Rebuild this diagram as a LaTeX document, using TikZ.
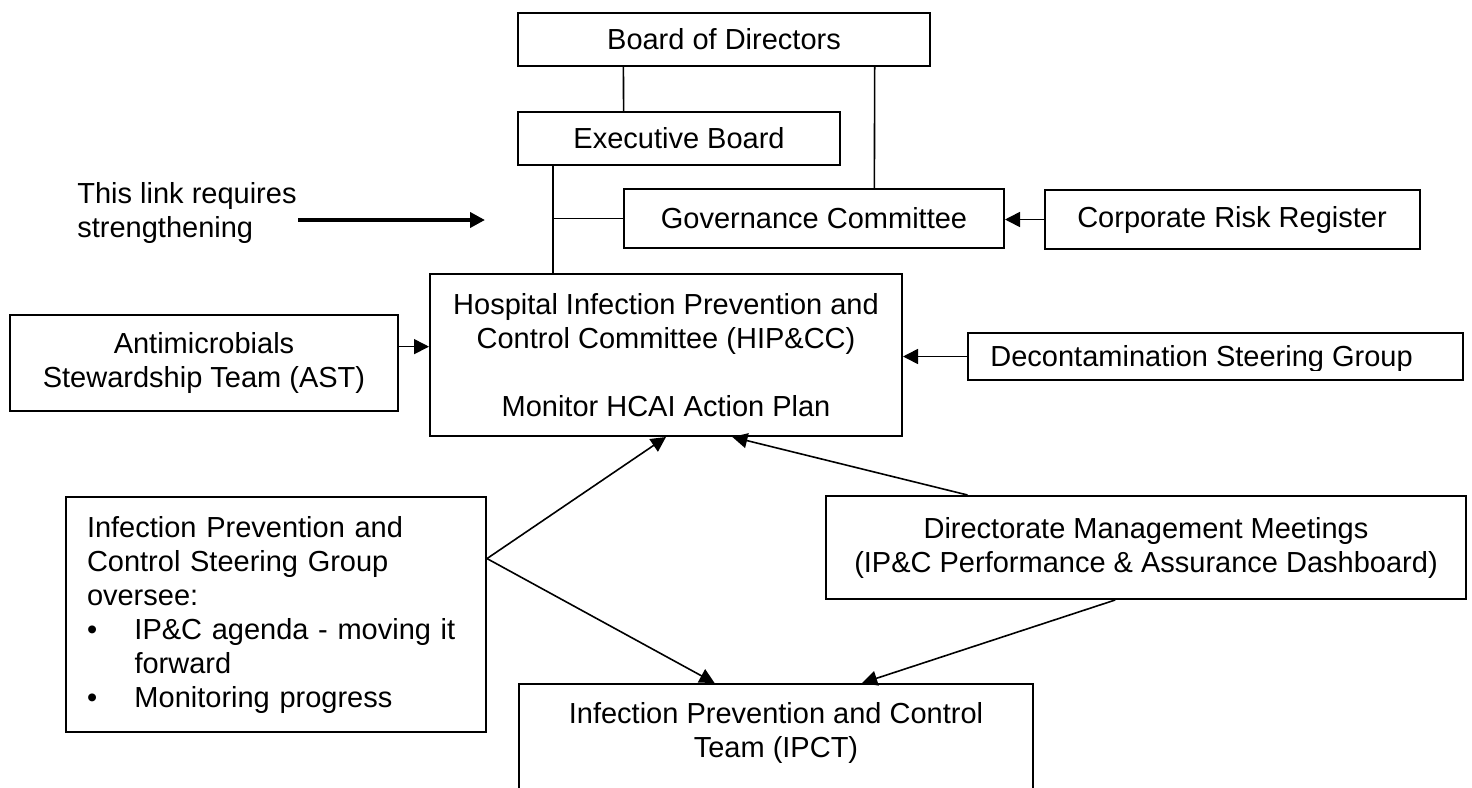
\documentclass[tikz,border=0pt]{standalone}
\usepackage{fontspec}
\setmainfont{Liberation Sans}
\usetikzlibrary{arrows.meta,calc}
\begin{document}
\begin{tikzpicture}[x=0.5pt,y=-0.5pt,
  box/.style={draw, line width=1pt, rectangle, inner sep=0pt, font=\fontsize{14.5pt}{17pt}\selectfont, align=center},
  conn/.style={line width=0.8pt},
  arr/.style={conn, -{Triangle[length=7.5pt,width=7.5pt]}},
  txt/.style={inner sep=0pt, font=\fontsize{14.5pt}{17pt}\selectfont}]
\useasboundingbox (0,0) rectangle (1472,787);
\clip (0,0) rectangle (1472,787);
% boxes
\node[box, minimum width=206pt, minimum height=26.5pt] (board) at (724,39.5) {Board of Directors};
\node[box, minimum width=161pt, minimum height=26.5pt] (exec) at (679,138.5) {Executive Board};
\node[box, minimum width=190pt, minimum height=29.5pt] (gov) at (814,218.5) {Governance Committee};
\node[box, minimum width=187.5pt, minimum height=29.5pt] (corp) at (1232,219.5) {Corporate Risk Register};
\node[box, minimum width=236pt, minimum height=81pt] (hip) at (666,355) {Hospital Infection Prevention and\\Control Committee (HIP\&CC)\\[17pt]Monitor HCAI Action Plan};
\node[box, minimum width=194pt, minimum height=48pt] (ast) at (204,363) {Antimicrobials\\Stewardship Team (AST)};
\node[box, minimum width=247.75pt, minimum height=23.5pt] (decon) at (1215.25,356.5) {};
\begin{scope}
\clip (decon.north west) rectangle ($(decon.south east)+(0,-11)$);
\node[txt, anchor=base west] (decontext) at ($(decon.west)+(23.5,9.5)$) {Decontamination Steering Group};
\end{scope}
\node[box, minimum width=210pt, minimum height=117.5pt, text width=189pt, align=left] (ipcsg) at (276,614.5) {Infection Prevention and\\Control Steering Group\\oversee:\\\makebox[23.75pt][l]{\textbullet}IP\&C agenda - moving it\\\hspace*{23.75pt}forward\\\makebox[23.75pt][l]{\textbullet}Monitoring progress};
\node[box, minimum width=320pt, minimum height=51.5pt] (dir) at (1146,547.5) {Directorate Management Meetings\\(IP\&C Performance \& Assurance Dashboard)};
\node[box, minimum width=257pt, minimum height=60pt, anchor=north] (ipct) at (776,683) {};
\node[txt, align=center, anchor=north] (ipcttext) at ($(ipct.north)+(0,19)$) {Infection Prevention and Control\\Team (IPCT)};
\node[txt, align=left, anchor=west] (note) at (77,213) {This link requires\\strengthening};
% connectors
\draw[conn] ($(board.south west)!0.257!(board.south east)$) -- ($(exec.north west)!0.329!(exec.north east)$);
\draw[conn] ($(board.south west)!0.864!(board.south east)$) -- ($(gov.north west)!0.658!(gov.north east)$);
\coordinate (j) at ($(exec.south west)!0.112!(exec.south east)$);
\draw[conn] (j) -- (j |- hip.north);
\draw[conn] (j |- gov.west) -- (gov.west);
\draw[arr] (corp.west) -- (corp.west -| gov.east);
\coordinate (astp) at ($(ast.north east)!0.333!(ast.south east)$);
\draw[arr] (astp) -- (astp -| hip.west);
\draw[arr] (decon.west) -- (decon.west -| hip.east);
\coordinate (sv) at ($(ipcsg.north east)!0.264!(ipcsg.south east)$);
\draw[arr] (sv) -- (hip.south);
\draw[arr] (sv) -- ($(ipct.north west)!0.381!(ipct.north east)$);
\draw[arr] ($(dir.north west)!0.222!(dir.north east)$) -- ($(hip.south west)!0.64!(hip.south east)$);
\draw[arr] ($(dir.south west)!0.452!(dir.south east)$) -- ($(ipct.north west)!0.667!(ipct.north east)$);
\coordinate (ltail) at (298,220);
\coordinate (lhead) at (485,220);
\draw[line width=2.2pt, -{Triangle[length=7.5pt,width=7.5pt]}] (ltail) -- (lhead);
\end{tikzpicture}
\end{document}
